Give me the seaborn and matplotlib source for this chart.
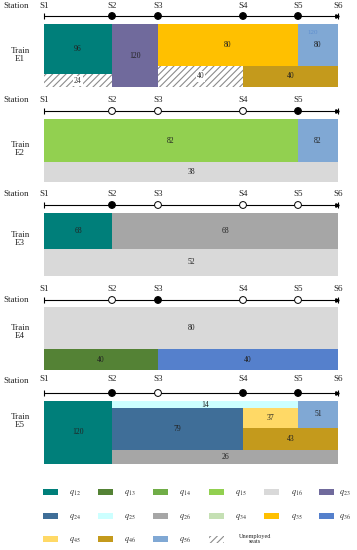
import matplotlib
matplotlib.use("Agg")
import matplotlib.pyplot as plt
from matplotlib.patches import Rectangle
import seaborn as sns

stations = ["S1", "S2", "S3", "S4", "S5", "S6"]
trains = ["E1", "E2", "E3", "E4", "E5"]

# stop pattern at S2..S5 (1 = train stops, 0 = passes through)
stops_e1 = [1, 1, 1, 1]
stops_e2 = [0, 0, 0, 1]
stops_e3 = [1, 0, 0, 0]
stops_e4 = [0, 1, 0, 0]
stops_e5 = [1, 0, 1, 1]

# seat allocation: (OD class, from station, to station, seats), stacked top-down
seg_e1 = [("q12", 0, 1, 96), ("idle", 0, 1, 24), ("q23", 1, 2, 120),
          ("q35", 2, 4, 80), ("q56", 4, 5, 80), ("idle", 2, 3, 40), ("q46", 3, 5, 40)]
seg_e2 = [("q15", 0, 4, 82), ("q56", 4, 5, 82), ("q16", 0, 5, 38)]
seg_e3 = [("q12", 0, 1, 68), ("q26", 1, 5, 68), ("q16", 0, 5, 52)]
seg_e4 = [("q16", 0, 5, 80), ("q13", 0, 2, 40), ("q36", 2, 5, 40)]
seg_e5 = [("q12", 0, 1, 120), ("q25", 1, 4, 14), ("q56", 4, 5, 51), ("q24", 1, 3, 79),
          ("q45", 3, 4, 37), ("q46", 3, 5, 43), ("q26", 1, 5, 26)]

legend_keys = ["q12", "q13", "q14", "q15", "q16", "q23",
               "q24", "q25", "q26", "q34", "q35", "q36",
               "q45", "q46", "q56", "idle"]

colors = {
    "q12": "#007f7a", "q13": "#548235", "q14": "#70ad47", "q15": "#92d050",
    "q16": "#d9d9d9", "q23": "#706a9c", "q24": "#3f6e98", "q25": "#ccffff",
    "q26": "#a6a6a6", "q34": "#c5e0b4", "q35": "#ffc000", "q36": "#5580cc",
    "q45": "#ffd966", "q46": "#c49a1c", "q56": "#80a8d4", "idle": "white",
}

# layout (pixels)
station_x = [44, 112, 158, 243, 298, 338]
bar_top = [24, 119, 213, 307, 401]
line_y = [16, 111, 205, 300, 393]
slabel_y = [6, 100, 194, 289, 379]
station_word_y = [6, 100, 194, 300, 381]
train_label_y = [55, 149, 239, 332, 421]
bar_h = 63.0
cap = 120.0

sns.set_theme(style="white")
plt.rcParams["font.family"] = ["Liberation Serif", "DejaVu Serif"]
plt.rcParams["mathtext.fontset"] = "stix"
plt.rcParams["hatch.color"] = "#8c8c8c"
plt.rcParams["hatch.linewidth"] = 0.8

fig = plt.figure(figsize=(3.57, 5.5), dpi=100)
ax = fig.add_axes([0, 0, 1, 1])
ax.set_xlim(0, 357)
ax.set_ylim(550, 0)
ax.axis("off")

all_stops = [stops_e1, stops_e2, stops_e3, stops_e4, stops_e5]
all_segs = [seg_e1, seg_e2, seg_e3, seg_e4, seg_e5]
scale = bar_h / cap

for i, train in enumerate(trains):
    ly = line_y[i]
    # station line
    ax.plot([station_x[0], station_x[-1]], [ly, ly], color="black", lw=0.8, zorder=2)
    ax.plot([station_x[0]], [ly], marker="|", color="black", ms=4, mew=0.8)
    ax.plot([station_x[-1]], [ly], marker="|", color="black", ms=4, mew=0.8)
    ax.plot([station_x[-1] - 1.5], [ly], marker=">", color="black", ms=2.5)
    face = ["black" if s else "white" for s in all_stops[i]]
    ax.scatter(station_x[1:5], [ly] * 4, s=24, c=face, edgecolors="black",
               linewidths=0.7, zorder=3)
    for k, s in enumerate(stations):
        if train == "E2" and s == "S6":
            continue
        ax.text(station_x[k], slabel_y[i], s, ha="center", va="center", fontsize=6.5)
    ax.text(16, station_word_y[i], "Station", ha="center", va="center", fontsize=6.5)
    ax.text(20, train_label_y[i], "Train\n" + train, ha="center", va="center",
            fontsize=6.5, linespacing=1.1)

    # seat allocation bars
    fill = [0.0] * 5
    for cls, a, b, seats in all_segs[i]:
        off = max(fill[a:b])
        for leg in range(a, b):
            fill[leg] = off + seats
        left = station_x[a]
        width = station_x[b] - station_x[a]
        y0 = bar_top[i] + off * scale
        h = seats * scale
        if cls == "idle":
            ax.bar(left, h, width=width, bottom=y0, align="edge", color="white",
                   hatch="/////", edgecolor="#8c8c8c", linewidth=0, zorder=1)
            ax.text(left + width / 2, y0 + h / 2, str(seats), ha="center", va="center",
                    fontsize=5.5, color="#333333", zorder=4,
                    bbox=dict(boxstyle="square,pad=0.15", fc="white", ec="none"))
        else:
            ax.bar(left, h, width=width, bottom=y0, align="edge", color=colors[cls],
                   linewidth=0, zorder=1)
            ax.text(left + width / 2, y0 + h / 2, str(seats), ha="center", va="center",
                    fontsize=5.5, color="#222222", zorder=4)

# faint capacity label in E1 q56
ax.text((station_x[4] + station_x[5]) / 2 - 5, bar_top[0] + 9, "120", ha="center",
        va="center", fontsize=5, color="#5f8fcf", zorder=4)

# legend
leg_patch_x = [43, 98, 153, 209, 264, 319]
leg_text_x = [75, 130, 185, 241, 297, 345]
leg_row_y = [492, 516, 539]
for n, key in enumerate(legend_keys):
    r, c = divmod(n, 6)
    y = leg_row_y[r]
    if key == "idle":
        ax.add_patch(Rectangle((leg_patch_x[c], y - 3.5), 15, 7, facecolor="white",
                               hatch="/////", edgecolor="#8c8c8c", linewidth=0))
        ax.text(leg_text_x[c] + 14, y, "Unemployed\nseats", ha="center", va="center",
                fontsize=4.5, linespacing=1.1)
    else:
        ax.add_patch(Rectangle((leg_patch_x[c], y - 3), 15, 6, facecolor=colors[key],
                               linewidth=0))
        ax.text(leg_text_x[c], y + 1, "$q_{%s}$" % key[1:], ha="center", va="center",
                fontsize=6, color="#333333")

fig.savefig("out.png", dpi=100, facecolor="white")
